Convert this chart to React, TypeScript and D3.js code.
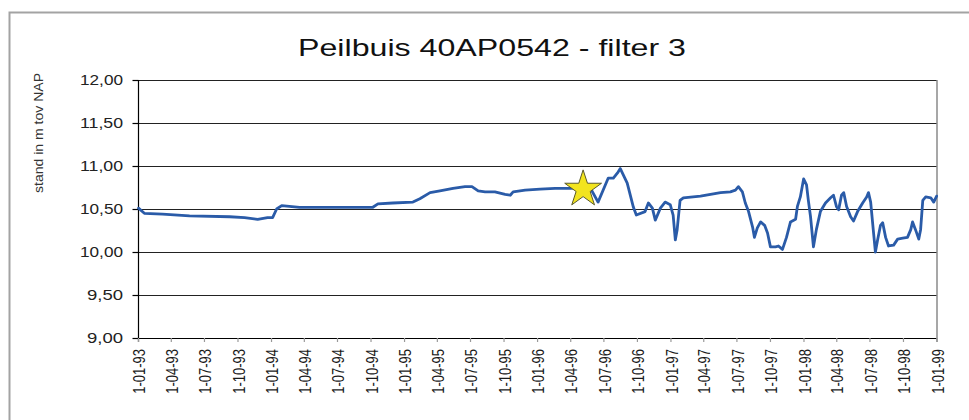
import React from "react";
import * as d3 from "d3";

const chartTitle = "Peilbuis 40AP0542 - filter 3";
const yAxisTitle = "stand in m tov NAP";

const xTickLabels = [
  "1-01-93", "1-04-93", "1-07-93", "1-10-93",
  "1-01-94", "1-04-94", "1-07-94", "1-10-94",
  "1-01-95", "1-04-95", "1-07-95", "1-10-95",
  "1-01-96", "1-04-96", "1-07-96", "1-10-96",
  "1-01-97", "1-04-97", "1-07-97", "1-10-97",
  "1-01-98", "1-04-98", "1-07-98", "1-10-98",
  "1-01-99",
];

const yTickValues = [9, 9.5, 10, 10.5, 11, 11.5, 12];
const yTickLabels = ["9,00", "9,50", "10,00", "10,50", "11,00", "11,50", "12,00"];

const dates = [
  "1993-01-01", "1993-01-17", "1993-03-08", "1993-05-21", "1993-09-08", "1993-10-19",
  "1993-11-24", "1993-12-21", "1994-01-04", "1994-01-15", "1994-01-29", "1994-03-19",
  "1994-10-06", "1994-10-20", "1994-11-30", "1995-01-24", "1995-02-12", "1995-03-12",
  "1995-04-08", "1995-05-14", "1995-06-16", "1995-07-05", "1995-07-22", "1995-08-10",
  "1995-09-06", "1995-10-04", "1995-10-18", "1995-10-26", "1995-11-28", "1996-01-08",
  "1996-02-18", "1996-03-30", "1996-05-24", "1996-06-15", "1996-07-13", "1996-07-27",
  "1996-08-09", "1996-08-15", "1996-09-03", "1996-09-20", "1996-09-28", "1996-10-22",
  "1996-10-31", "1996-11-11", "1996-11-19", "1996-12-03", "1996-12-16", "1996-12-30",
  "1997-01-07", "1997-01-13", "1997-01-18", "1997-01-26", "1997-02-04", "1997-03-23",
  "1997-05-17", "1997-06-13", "1997-06-27", "1997-07-05", "1997-07-16", "1997-07-24",
  "1997-08-02", "1997-08-13", "1997-08-18", "1997-08-26", "1997-09-04", "1997-09-15",
  "1997-09-23", "1997-10-01", "1997-10-15", "1997-10-23", "1997-11-03", "1997-11-14",
  "1997-11-25", "1997-12-09", "1997-12-14", "1997-12-22", "1997-12-31", "1998-01-08",
  "1998-01-13", "1998-01-19", "1998-01-27", "1998-02-04", "1998-02-15", "1998-03-01",
  "1998-03-15", "1998-03-23", "1998-03-31", "1998-04-06", "1998-04-14", "1998-04-20",
  "1998-04-28", "1998-05-09", "1998-05-17", "1998-05-28", "1998-06-11", "1998-06-22",
  "1998-06-27", "1998-07-03", "1998-07-11", "1998-07-16", "1998-07-22", "1998-07-30",
  "1998-08-05", "1998-08-13", "1998-08-21", "1998-09-04", "1998-09-15", "1998-09-29",
  "1998-10-12", "1998-10-21", "1998-10-26", "1998-11-03", "1998-11-12", "1998-11-17",
  "1998-11-23", "1998-12-01", "1998-12-15", "1998-12-23", "1998-12-31",
];

const levels = [
  10.51, 10.45, 10.44, 10.42, 10.41, 10.40,
  10.38, 10.40, 10.40, 10.50, 10.54, 10.52,
  10.52, 10.56, 10.57, 10.58, 10.62, 10.69,
  10.71, 10.74, 10.76, 10.76, 10.71, 10.70,
  10.70, 10.67, 10.66, 10.70, 10.72, 10.73,
  10.74, 10.74, 10.75, 10.58, 10.86, 10.86,
  10.93, 10.97, 10.80, 10.52, 10.43, 10.47,
  10.57, 10.51, 10.37, 10.51, 10.58, 10.55,
  10.43, 10.14, 10.26, 10.60, 10.63, 10.65,
  10.69, 10.70, 10.72, 10.76, 10.70, 10.57,
  10.47, 10.29, 10.17, 10.28, 10.35, 10.31,
  10.22, 10.06, 10.06, 10.07, 10.03, 10.17,
  10.35, 10.38, 10.53, 10.64, 10.85, 10.78,
  10.60, 10.41, 10.06, 10.26, 10.47, 10.57,
  10.63, 10.66, 10.53, 10.49, 10.66, 10.69,
  10.53, 10.41, 10.36, 10.47, 10.57, 10.64,
  10.69, 10.58, 10.22, 10.00, 10.14, 10.31,
  10.34, 10.17, 10.07, 10.08, 10.15, 10.16,
  10.17, 10.26, 10.35, 10.26, 10.15, 10.26,
  10.60, 10.64, 10.63, 10.58, 10.65,
];

const markerDate = "1996-05-05";
const markerValue = 10.73;

const W = 969;
const H = 420;
const M = { left: 138.5, right: 937, top: 80, bottom: 338 };
const FONT = "'Liberation Sans', Arial, sans-serif";

export default function App() {
  const parseIso = d3.timeParse("%Y-%m-%d");
  const parseTick = d3.timeParse("%d-%m-%y");
  const tickDates = xTickLabels.map((s) => parseTick(s) as Date);

  const x = d3
    .scaleTime()
    .domain([tickDates[0], tickDates[tickDates.length - 1]])
    .range([M.left, M.right]);
  const y = d3.scaleLinear().domain([9, 12]).range([M.bottom, M.top]);

  const data = dates.map((d, i) => ({ date: parseIso(d) as Date, v: levels[i] }));
  const line = d3
    .line<{ date: Date; v: number }>()
    .x((d) => x(d.date))
    .y((d) => y(d.v));

  const starPath = d3.symbol().type(d3.symbolStar).size(420)() as string;
  const sx = x(parseIso(markerDate) as Date);
  const sy = y(markerValue);

  return (
    <svg
      width={W}
      height={H}
      style={{ position: "absolute", left: 0, top: 0, background: "#fff" }}
      fontFamily={FONT}
    >
      <rect x={0} y={0} width={W} height={H} fill="#fff" />
      <rect x={9.5} y={12.5} width={1100} height={600} fill="none" stroke="#a3a3a3" strokeWidth={2} />

      <text
        x={492}
        y={56}
        fontSize={24}
        textAnchor="middle"
        fill="#111"
        textLength={388}
        lengthAdjust="spacingAndGlyphs"
      >
        {chartTitle}
      </text>

      <text
        transform={`translate(38,133) rotate(-90)`}
        fontSize={13.5}
        textAnchor="middle"
        dy="0.35em"
        fill="#333"
        textLength={120}
        lengthAdjust="spacingAndGlyphs"
      >
        {yAxisTitle}
      </text>

      {/* gridlines */}
      {yTickValues.map((v, i) => (
        <line
          key={"g" + i}
          x1={M.left}
          x2={M.right}
          y1={Math.round(y(v)) + 0.5}
          y2={Math.round(y(v)) + 0.5}
          stroke={v === 9 ? "#000" : "#222"}
          strokeWidth={1.2}
        />
      ))}

      {/* right plot border */}
      <line x1={M.right} x2={M.right} y1={M.top} y2={M.bottom + 4} stroke="#8a8a8a" strokeWidth={1.5} />

      {/* y axis */}
      <line x1={M.left} x2={M.left} y1={M.top} y2={M.bottom + 4} stroke="#000" strokeWidth={1.2} />
      {yTickValues.map((v, i) => (
        <g key={"yt" + i}>
          <line
            x1={M.left - 6}
            x2={M.left}
            y1={Math.round(y(v)) + 0.5}
            y2={Math.round(y(v)) + 0.5}
            stroke="#000"
            strokeWidth={1.2}
          />
          <text
            x={123}
            y={y(v)}
            dy="0.36em"
            fontSize={14}
            textAnchor="end"
            fill="#222"
            textLength={yTickLabels[i].length === 5 ? 43 : 36}
            lengthAdjust="spacingAndGlyphs"
          >
            {yTickLabels[i]}
          </text>
        </g>
      ))}

      {/* x ticks and labels */}
      {tickDates.map((d, i) => (
        <g key={"xt" + i}>
          <line
            x1={x(d)}
            x2={x(d)}
            y1={M.bottom}
            y2={M.bottom + 4}
            stroke="#999"
            strokeWidth={1.2}
          />
          <text
            transform={`translate(${x(d) + 1},349) rotate(-90) scale(1,1.2)`}
            fontSize={13}
            textAnchor="end"
            dy="0.36em"
            fill="#1a1a1a"
          >
            {xTickLabels[i]}
          </text>
        </g>
      ))}

      {/* series */}
      <path
        d={line(data) as string}
        fill="none"
        stroke="#2a5ba8"
        strokeWidth={2.8}
        strokeLinejoin="round"
        strokeLinecap="round"
      />

      {/* marker */}
      <path
        d={starPath}
        transform={`translate(${sx},${sy})`}
        fill="#f2e41e"
        stroke="#5a5a2a"
        strokeWidth={1}
      />
    </svg>
  );
}
